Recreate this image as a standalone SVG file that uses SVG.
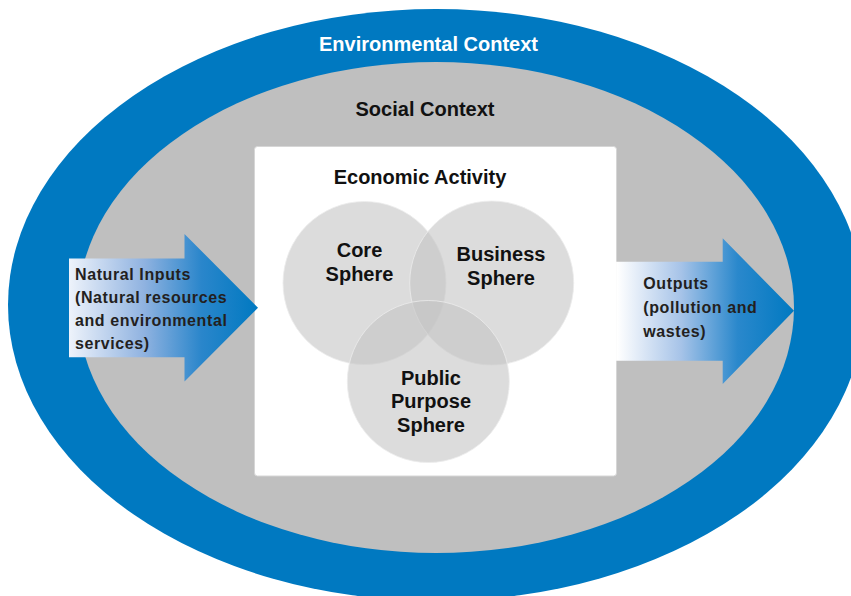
<svg xmlns="http://www.w3.org/2000/svg" width="851" height="596" viewBox="0 0 851 596">
<defs>
<style>
.t{font-family:"Liberation Sans",Arial,sans-serif;font-weight:bold;text-anchor:middle}
.big{font-size:20px;fill:#111}
.arr{font-family:"Liberation Sans",Arial,sans-serif;font-weight:bold;font-size:16px;letter-spacing:0.6px;fill:#231f20}
.sph{fill:#c5c5c5;fill-opacity:0.6;stroke:#ececec;stroke-width:0.8}
</style>
<linearGradient id="gIn" x1="69" y1="0" x2="258" y2="0" gradientUnits="userSpaceOnUse">
<stop offset="0" stop-color="#eef3fb"/>
<stop offset="0.4" stop-color="#8fb2e0"/>
<stop offset="0.7" stop-color="#2a86cb"/>
<stop offset="1" stop-color="#0079c1"/>
</linearGradient>
<linearGradient id="gOut" x1="606" y1="0" x2="794" y2="0" gradientUnits="userSpaceOnUse">
<stop offset="0" stop-color="#ffffff" stop-opacity="0"/>
<stop offset="0.06" stop-color="#ffffff"/>
<stop offset="0.4" stop-color="#a6c3e8"/>
<stop offset="0.7" stop-color="#2a88cc"/>
<stop offset="1" stop-color="#0079c1"/>
</linearGradient>
</defs>
<rect width="851" height="596" fill="#ffffff"/>
<g id="environmental-context">
<ellipse cx="436" cy="305" rx="428" ry="296" fill="#0079c1"/>
<text class="t" x="428.5" y="51" font-size="20" fill="#ffffff">Environmental Context</text>
</g>
<g id="social-context">
<ellipse cx="436" cy="307.5" rx="358" ry="245.5" fill="#bfbfbf"/>
<text class="t big" x="425" y="116">Social Context</text>
</g>
<g id="economic-activity">
<rect x="254.5" y="146.5" width="362" height="329.5" rx="3" fill="#ffffff" stroke="#d6d6d6" stroke-width="1"/>
<text class="t big" x="420" y="183.5">Economic Activity</text>
</g>
<g id="core-sphere">
<circle class="sph" cx="364.5" cy="283" r="81.5"/>
</g>
<g id="business-sphere">
<circle class="sph" cx="491.7" cy="283" r="82"/>
</g>
<g id="public-purpose-sphere">
<circle class="sph" cx="428.3" cy="381.5" r="81"/>
</g>
<g id="sphere-labels">
<text class="t big" x="359.5" y="257">Core</text>
<text class="t big" x="359.5" y="281">Sphere</text>
<text class="t big" x="501" y="261">Business</text>
<text class="t big" x="501" y="285">Sphere</text>
<text class="t big" x="431" y="384.5">Public</text>
<text class="t big" x="431" y="408">Purpose</text>
<text class="t big" x="431" y="431.5">Sphere</text>
</g>
<g id="natural-inputs">
<polygon points="69,258.5 184.5,258.5 184.5,234 258,307.7 184.5,381.5 184.5,357.3 69,357.3" fill="url(#gIn)"/>
<text class="arr" x="75" y="279.5">Natural Inputs</text>
<text class="arr" x="75" y="302.8">(Natural resources</text>
<text class="arr" x="75" y="326.1">and environmental</text>
<text class="arr" x="75" y="349.4">services)</text>
</g>
<g id="outputs">
<polygon points="606,261.7 722.7,261.7 722.7,238.3 794,310.7 722.7,384 722.7,360.7 606,360.7" fill="url(#gOut)"/>
<text class="arr" x="643.3" y="289.3">Outputs</text>
<text class="arr" x="643.3" y="312.8">(pollution and</text>
<text class="arr" x="643.3" y="336.5">wastes)</text>
</g>
<g id="connectors"></g>
</svg>
